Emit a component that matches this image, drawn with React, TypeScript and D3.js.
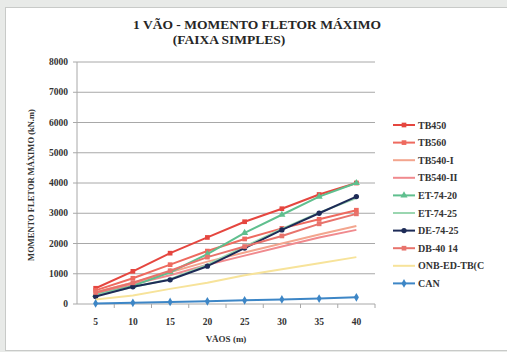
import React from "react";
import * as d3 from "d3";

// Span lengths (m)
const spans = [5, 10, 15, 20, 25, 30, 35, 40];

// Maximum bending moment (kN.m) per deck system
const seriesNames = [
  "TB450",
  "TB560",
  "TB540-I",
  "TB540-II",
  "ET-74-20",
  "ET-74-25",
  "DE-74-25",
  "DB-40 14",
  "ONB-ED-TB(C",
  "CAN",
];
const tb450 = [520, 1080, 1680, 2200, 2720, 3150, 3620, 4000];
const tb560 = [450, 850, 1300, 1750, 2150, 2500, 2800, 3100];
const tb540i = [400, 700, 1050, 1400, 1700, 2000, 2300, 2580];
const tb540ii = [350, 650, 950, 1300, 1600, 1900, 2200, 2450];
const et7420 = [300, 600, 1050, 1650, 2350, 2950, 3550, 4000];
const et7425 = [280, 560, 820, 1300, 1900, 2480, 3020, 3500];
const de7425 = [250, 570, 800, 1250, 1850, 2450, 3000, 3550];
const db4014 = [380, 700, 1100, 1550, 1900, 2250, 2650, 2980];
const onb = [150, 280, 500, 700, 950, 1150, 1350, 1550];
const can = [20, 40, 70, 90, 120, 150, 180, 220];

const yTicks = [0, 1000, 2000, 3000, 4000, 5000, 6000, 7000, 8000];

const seriesValues = [tb450, tb560, tb540i, tb540ii, et7420, et7425, de7425, db4014, onb, can];
const seriesColors = [
  "#e5463f",
  "#ee6a5f",
  "#f3a58e",
  "#f08a8e",
  "#5fbf8e",
  "#9ad6b0",
  "#1d2b57",
  "#e8736c",
  "#f7e39a",
  "#3d86c6",
];
const markerShapes = [
  d3.symbolSquare,
  d3.symbolSquare,
  null,
  null,
  d3.symbolTriangle,
  null,
  d3.symbolCircle,
  d3.symbolSquare,
  null,
  d3.symbolDiamond,
];

const W = 507;
const H = 352;
const plot = { left: 77, right: 375, top: 62, bottom: 304 };
const FONT = "'Liberation Serif', 'Times New Roman', serif";

export default function App() {
  const x = d3
    .scalePoint<number>()
    .domain(spans)
    .range([plot.left, plot.right])
    .padding(0.5);
  const y = d3.scaleLinear().domain([0, 8000]).range([plot.bottom, plot.top]);
  const line = d3
    .line<number>()
    .x((_, i) => x(spans[i]) as number)
    .y((d) => y(d));

  const legendX = 393;
  const legendY0 = 125;
  const legendStep = 17.6;

  return (
    <svg
      width={W}
      height={H}
      style={{ position: "absolute", left: 0, top: 0, background: "#e8eae8" }}
    >
      <rect x={5.5} y={7.5} width={W - 5} height={H - 9} fill="#ffffff" stroke="#c8cac8" />

      {/* title */}
      <text
        x={257}
        y={29}
        textAnchor="middle"
        fontFamily={FONT}
        fontWeight="bold"
        fontSize={13.5}
        fill="#262626"
      >
        1 VÃO - MOMENTO FLETOR MÁXIMO
      </text>
      <text
        x={229}
        y={44}
        textAnchor="middle"
        fontFamily={FONT}
        fontWeight="bold"
        fontSize={13.5}
        fill="#262626"
      >
        (FAIXA SIMPLES)
      </text>

      {/* horizontal gridlines and y ticks */}
      {yTicks.map((t) => (
        <g key={t}>
          <line
            x1={plot.left - 4}
            x2={plot.right}
            y1={y(t)}
            y2={y(t)}
            stroke="#a8a8a8"
            strokeWidth={1}
          />
          <text
            x={plot.left - 9}
            y={y(t) + 3}
            textAnchor="end"
            fontFamily={FONT}
            fontWeight="bold"
            fontSize={9.5}
            fill="#333"
          >
            {t}
          </text>
        </g>
      ))}
      <line
        x1={plot.left}
        x2={plot.left}
        y1={plot.top}
        y2={plot.bottom}
        stroke="#a8a8a8"
      />

      {/* x tick labels */}
      {spans.map((s) => (
        <text
          key={s}
          x={x(s)}
          y={plot.bottom + 21}
          textAnchor="middle"
          fontFamily={FONT}
          fontWeight="bold"
          fontSize={9.5}
          fill="#333"
        >
          {s}
        </text>
      ))}
      {spans.map((s, i) => {
        const bx = plot.left + ((plot.right - plot.left) / spans.length) * (i + 1);
        return (
          <line
            key={"tk" + s}
            x1={bx}
            x2={bx}
            y1={plot.bottom}
            y2={plot.bottom + 4}
            stroke="#a8a8a8"
          />
        );
      })}

      {/* axis titles */}
      <text
        x={(plot.left + plot.right) / 2}
        y={342}
        textAnchor="middle"
        fontFamily={FONT}
        fontWeight="bold"
        fontSize={9}
        fill="#333"
      >
        VÃOS (m)
      </text>
      <text
        transform={`translate(34, 185) rotate(-90)`}
        textAnchor="middle"
        fontFamily={FONT}
        fontWeight="bold"
        fontSize={8.5}
        fill="#333"
      >
        MOMENTO FLETOR MÁXIMO (kN.m)
      </text>

      {/* series lines */}
      {seriesValues.map((vals, si) => (
        <g key={seriesNames[si]}>
          <path
            d={line(vals) || ""}
            fill="none"
            stroke={seriesColors[si]}
            strokeWidth={2}
            strokeLinejoin="round"
          />
          {markerShapes[si] &&
            vals.map((v, i) => (
              <path
                key={i}
                d={d3.symbol().type(markerShapes[si]!).size(22)() || ""}
                transform={`translate(${x(spans[i])},${y(v)})`}
                fill={seriesColors[si]}
              />
            ))}
        </g>
      ))}

      {/* legend */}
      {seriesNames.map((name, i) => {
        const ly = legendY0 + i * legendStep;
        return (
          <g key={"lg" + name}>
            <line
              x1={legendX}
              x2={legendX + 22}
              y1={ly}
              y2={ly}
              stroke={seriesColors[i]}
              strokeWidth={2}
            />
            {markerShapes[i] && (
              <path
                d={d3.symbol().type(markerShapes[i]!).size(22)() || ""}
                transform={`translate(${legendX + 11},${ly})`}
                fill={seriesColors[i]}
              />
            )}
            <text
              x={legendX + 25}
              y={ly + 3.5}
              fontFamily={FONT}
              fontWeight="bold"
              fontSize={10}
              fill="#333"
            >
              {name}
            </text>
          </g>
        );
      })}
    </svg>
  );
}
